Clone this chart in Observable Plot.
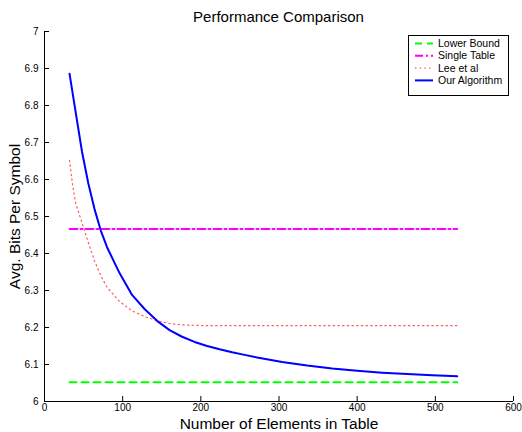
<!DOCTYPE html>
<html>
<head>
<meta charset="utf-8">
<script src="https://cdn.jsdelivr.net/npm/d3@7"></script>
<script src="https://cdn.jsdelivr.net/npm/@observablehq/plot@0.6"></script>
<style>
  body { margin: 0; background: #fff; font-family: "Liberation Sans", Arial, Helvetica, sans-serif; }
  #wrap { position: relative; width: 522px; height: 432px; }
  #title { position: absolute; left: 0; width: 557px; top: 8px; text-align: center; font-size: 15px; color: #000; }
  #legend { position: absolute; left: 408px; top: 35px; width: 99px; height: 59px; border: 1px solid #000; background: #fff; }
</style>
</head>
<body>
<div id="wrap">
  <div id="chart"></div>
  <div id="title">Performance Comparison</div>
  <div id="legend"></div>
</div>
<script>
// ---- data ----
const seriesNames = ["Lower Bound", "Single Table", "Lee et al", "Our Algorithm"];
const seriesColors = ["#00ff00", "#ff00ff", "#ff5a5a", "#0000ff"];
const seriesDash = ["7,5", "8,3,2,3", "1.4,3.3", null];
const seriesWidth = [2, 2, 1.2, 2];

const lowerBoundX = [32, 528];
const lowerBoundY = [6.052, 6.052];

const singleTableX = [32, 528];
const singleTableY = [6.466, 6.466];

const leeX = [32, 36, 40, 48, 56, 64, 72, 80, 96, 112, 128, 144, 160, 176, 208, 528];
const leeY = [6.652, 6.585, 6.535, 6.483, 6.43, 6.38, 6.34, 6.309, 6.27, 6.245, 6.23, 6.218, 6.211, 6.207, 6.205, 6.205];

const oursX = [32, 40, 48, 56, 64, 72, 80, 96, 112, 128, 144, 160, 176, 192, 208, 224, 240, 256, 272, 288, 304, 336, 368, 400, 432, 464, 496, 528];
const oursY = [6.886, 6.78, 6.675, 6.59, 6.52, 6.462, 6.417, 6.347, 6.288, 6.25, 6.218, 6.193, 6.175, 6.161, 6.15, 6.141, 6.133, 6.126, 6.119, 6.113, 6.107, 6.097, 6.089, 6.083, 6.078, 6.074, 6.071, 6.068];

const xTicks = [0, 100, 200, 300, 400, 500, 600];
const yTicks = [6, 6.1, 6.2, 6.3, 6.4, 6.5, 6.6, 6.7, 6.8, 6.9, 7];
const yTickLabels = ["6", "6.1", "6.2", "6.3", "6.4", "6.5", "6.6", "6.7", "6.8", "6.9", "7"];

const xLabel = "Number of Elements in Table";
const yLabel = "Avg. Bits Per Symbol";

// ---- build table ----
const allX = [lowerBoundX, singleTableX, leeX, oursX];
const allY = [lowerBoundY, singleTableY, leeY, oursY];
const rows = [];
allX.forEach((xs, s) => xs.forEach((x, i) => rows.push({series: seriesNames[s], x, y: allY[s][i]})));

const lineMarks = seriesNames.map((name, s) =>
  Plot.line(rows.filter(d => d.series === name), {
    x: "x", y: "y",
    stroke: seriesColors[s],
    strokeWidth: seriesWidth[s],
    strokeDasharray: seriesDash[s] || undefined,
    strokeLinejoin: "round"
  })
);

const chart = Plot.plot({
  width: 522,
  height: 432,
  marginLeft: 44,
  marginRight: 9,
  marginTop: 31,
  marginBottom: 31,
  style: {fontFamily: "'Liberation Sans', Arial, Helvetica, sans-serif", background: "transparent", color: "#000"},
  x: {domain: [0, 600]},
  y: {domain: [6, 7]},
  marks: [
    Plot.ruleX([0], {stroke: "#000"}),
    Plot.ruleY([6], {stroke: "#000"}),
    Plot.axisX({ticks: xTicks, tickSize: -5, tickPadding: 7, fontSize: 10, label: xLabel, labelAnchor: "center", labelOffset: 27, labelArrow: "none"}),
    Plot.axisY({ticks: yTicks, tickSize: -5, tickPadding: 11, fontSize: 10,
      tickFormat: d => yTickLabels[yTicks.findIndex(t => Math.abs(t - d) < 1e-9)],
      label: yLabel, labelAnchor: "center", labelOffset: 36, labelArrow: "none"}),
    ...lineMarks
  ]
});
document.getElementById("chart").appendChild(chart);

// axis titles larger than tick labels
chart.querySelectorAll("g[aria-label='x-axis label'], g[aria-label='y-axis label']").forEach(g => {
  g.setAttribute("font-size", "15.5");
  g.querySelectorAll("text").forEach(t => t.setAttribute("font-size", "15.5"));
});

// ---- legend ----
const legend = document.getElementById("legend");
const ns = "http://www.w3.org/2000/svg";
const lsvg = document.createElementNS(ns, "svg");
lsvg.setAttribute("width", 99);
lsvg.setAttribute("height", 59);
seriesNames.forEach((name, s) => {
  const yy = 7.5 + s * 12.3;
  const ln = document.createElementNS(ns, "line");
  ln.setAttribute("x1", 6); ln.setAttribute("x2", 24);
  ln.setAttribute("y1", yy); ln.setAttribute("y2", yy);
  ln.setAttribute("stroke", seriesColors[s]);
  ln.setAttribute("stroke-width", seriesWidth[s]);
  if (seriesDash[s]) ln.setAttribute("stroke-dasharray", seriesDash[s]);
  lsvg.appendChild(ln);
  const tx = document.createElementNS(ns, "text");
  tx.setAttribute("x", 29); tx.setAttribute("y", yy);
  tx.setAttribute("dy", "0.35em");
  tx.setAttribute("font-size", "10.5");
  tx.setAttribute("font-family", "'Liberation Sans', Arial, sans-serif");
  tx.textContent = name;
  lsvg.appendChild(tx);
});
legend.appendChild(lsvg);
</script>
</body>
</html>
